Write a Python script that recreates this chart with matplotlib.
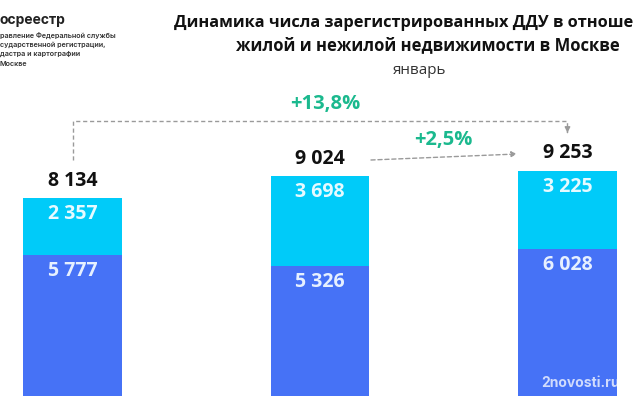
import matplotlib
matplotlib.use("Agg")
import matplotlib.pyplot as plt

# Data
categories = ["январь 2022", "январь 2023", "январь 2024"]
nonresidential = [2357, 3698, 3225]
residential = [5777, 5326, 6028]
totals = [8134, 9024, 9253]
growth_labels = ["+13,8%", "+2,5%"]

def fmt(v):
    return f"{v:,}".replace(",", " ")

C_LIGHT = "#00CBF9"
C_DARK = "#4672F6"
C_GREEN = "#1BB98E"
C_GRAY = "#9A9A9A"

plt.rcParams['font.family'] = ['Open Sans', 'DejaVu Sans']

fig = plt.figure(figsize=(6.4, 4.0), dpi=100)
ax = fig.add_axes([0, 0.01, 1, 0.99])
ax.set_xlim(-0.293, 2.293)
ax.set_ylim(0, 16270)
ax.axis("off")

x = list(range(len(categories)))
ax.bar(x, residential, width=0.4, color=C_DARK)
ax.bar(x, nonresidential, width=0.4, bottom=residential, color=C_LIGHT)

for i in x:
    ax.text(i, totals[i] + 720, fmt(totals[i]), ha="center", va="center",
            fontsize=14, fontweight="bold", color="#111111")
    ax.text(i, totals[i] - 660, fmt(nonresidential[i]), ha="center", va="center",
            fontsize=14, fontweight="bold", color="#E6FAFF")
    ax.text(i, residential[i] - 660, fmt(residential[i]), ha="center", va="center",
            fontsize=14, fontweight="bold", color="#E6F0FF")

# Long dashed connector from bar 1 to bar 3
ax.plot([0, 0, 2, 2], [9700, 11300, 11300, 10900], color=C_GRAY, lw=1.0,
        ls=(0, (3, 2)))
ax.annotate("", xy=(2, 10700), xytext=(2, 10950),
            arrowprops=dict(arrowstyle="-|>", color=C_GRAY, lw=1.0,
                            mutation_scale=8))
ax.text(1.02, 12000, growth_labels[0], ha="center", va="center",
        fontsize=14.5, fontweight="bold", color=C_GREEN)

# Short dashed arrow from bar 2 to bar 3
ax.annotate("", xy=(1.796, 9943), xytext=(1.206, 9696),
            arrowprops=dict(arrowstyle="-|>", color=C_GRAY, lw=1.0,
                            ls=(0, (3, 2)), mutation_scale=8,
                            shrinkA=0, shrinkB=0))
ax.text(1.497, 10520, growth_labels[1], ha="center", va="center",
        fontsize=14.5, fontweight="bold", color=C_GREEN)

# Title
fig.text(174 / 640, 1 - 23 / 400, "Динамика числа зарегистрированных ДДУ в отноше",
         ha="left", va="center", fontsize=11.8, fontweight="bold", color="#111111")
fig.text(428 / 640, 1 - 45 / 400, "жилой и нежилой недвижимости в Москве",
         ha="center", va="center", fontsize=12, fontweight="bold", color="#111111")
fig.text(420 / 640, 1 - 70 / 400, "январь", ha="center", va="center",
         fontsize=11, color="#333333")

# Logo text
logo_font = ['Inter', 'DejaVu Sans']
fig.text(0, 1 - 20 / 400, "осреестр", ha="left", va="center", fontsize=10,
         fontweight="bold", color="#222222", family=logo_font)
for j, line in enumerate(["равление Федеральной службы", "сударственной регистрации,",
                          "дастра и картографии", "Москве"]):
    fig.text(0, 1 - (35 + j * 9.5) / 400, line, ha="left", va="center",
             fontsize=5.2, fontweight="semibold", color="#333333", family=logo_font)

# Watermark
fig.text(541 / 640, 1 - 383 / 400, "2novosti.ru", ha="left", va="center",
         fontsize=10, fontweight="bold", color="white", alpha=0.75, family=logo_font)

fig.savefig("out.png", dpi=100)
